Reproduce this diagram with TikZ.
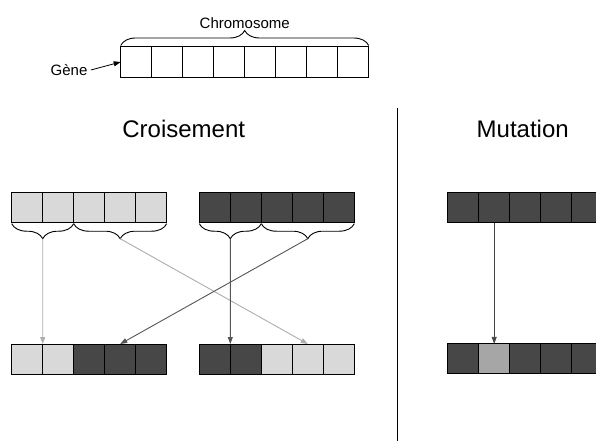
\documentclass[tikz,border=0pt]{standalone}
\usepackage{fontspec}
\setmainfont{Liberation Sans}
\usetikzlibrary{positioning,calc,decorations.pathreplacing,arrows.meta}

\definecolor{lightcell}{HTML}{D9D9D9}
\definecolor{darkcell}{HTML}{474747}
\definecolor{mutcell}{HTML}{A6A6A6}
\definecolor{lightarrow}{HTML}{ADADAD}
\definecolor{darkarrow}{HTML}{555555}

\tikzset{
  cell/.style={draw=black, line width=0.8pt, minimum width=31pt, minimum height=30pt, inner sep=0pt, outer sep=0pt},
  brace/.style={decorate, line width=0.9pt, decoration={brace, amplitude=15pt, raise=1pt}},
  link/.style={line width=0.9pt, -{Triangle[length=7pt,width=5pt]}},
  title/.style={font=\fontsize{24}{28}\selectfont},
  label/.style={font=\fontsize{15}{18}\selectfont}
}

\begin{document}
\begin{tikzpicture}[x=1pt, y=-1pt]
        \clip (0,0) rectangle (596,441);

        % Chromosome at the top
        \foreach \i in {0,...,7}
            \node[cell, minimum height=31pt] (t-\i) at (136.2+31*\i,62) {};
        \draw[brace] (t-0.north west) -- (t-7.north east);
        \coordinate (ttip) at ($(t-0.north west)!0.5!(t-7.north east)+(0,-16)$);
        \node[label, above=-2pt of ttip] (chromo) {Chromosome};
        \node[label] (gene) at (69,70) {Gène};
        \draw[link, line width=0.8pt] (gene.east) -- (t-0.west);

        % Titles and divider
        \node[title] (cross) at (183.7,129) {Croisement};
        \node[title] (mut) at (522.7,129) {Mutation};
        \coordinate (divtop) at (397.3,108);
        \coordinate (divbot) at (397.3,441);
        \draw[line width=1.3pt] (divtop) -- (divbot);

        % Crossover: parents
        \foreach \col [count=\i from 0] in {lightcell,lightcell,lightcell,lightcell,lightcell}
            \node[cell, fill=\col] (p1-\i) at (27.2+31*\i,207.7) {};
        \foreach \col [count=\i from 0] in {darkcell,darkcell,darkcell,darkcell,darkcell}
            \node[cell, fill=\col] (p2-\i) at (214.8+31*\i,207.7) {};

        % Crossover: children
        \foreach \col [count=\i from 0] in {lightcell,lightcell,darkcell,darkcell,darkcell}
            \node[cell, fill=\col] (c1-\i) at (27.2+31*\i,359) {};
        \foreach \col [count=\i from 0] in {darkcell,darkcell,lightcell,lightcell,lightcell}
            \node[cell, fill=\col] (c2-\i) at (214.8+31*\i,359) {};

        % Braces under the parents
        \draw[brace] (p1-1.south east) -- (p1-0.south west);
        \draw[brace] (p1-4.south east) -- (p1-2.south west);
        \draw[brace] (p2-1.south east) -- (p2-0.south west);
        \draw[brace] (p2-4.south east) -- (p2-2.south west);
        \coordinate (b1) at ($(p1-0.south west)!0.5!(p1-1.south east)+(0,16)$);
        \coordinate (b2) at ($(p1-2.south west)!0.5!(p1-4.south east)+(0,16)$);
        \coordinate (b3) at ($(p2-0.south west)!0.5!(p2-1.south east)+(0,16)$);
        \coordinate (b4) at ($(p2-2.south west)!0.5!(p2-4.south east)+(0,16)$);

        % Where the pieces go
        \draw[link, lightarrow] (b1) -- (c1-0.north east);
        \draw[link, lightarrow] (b2) -- (c2-3.north);
        \draw[link, darkarrow] (b3) -- (c2-0.north east);
        \draw[link, darkarrow] (b4) -- (c1-3.north);

        % Mutation
        \foreach \col [count=\i from 0] in {darkcell,darkcell,darkcell,darkcell,darkcell}
            \node[cell, fill=\col] (m1-\i) at (463.2+31*\i,207.8) {};
        \foreach \col [count=\i from 0] in {darkcell,mutcell,darkcell,darkcell,darkcell}
            \node[cell, fill=\col] (m2-\i) at (463.2+31*\i,358.8) {};
        \draw[link, darkarrow!80!black] (m1-1.south) -- (m2-1.north);
\end{tikzpicture}
\end{document}
